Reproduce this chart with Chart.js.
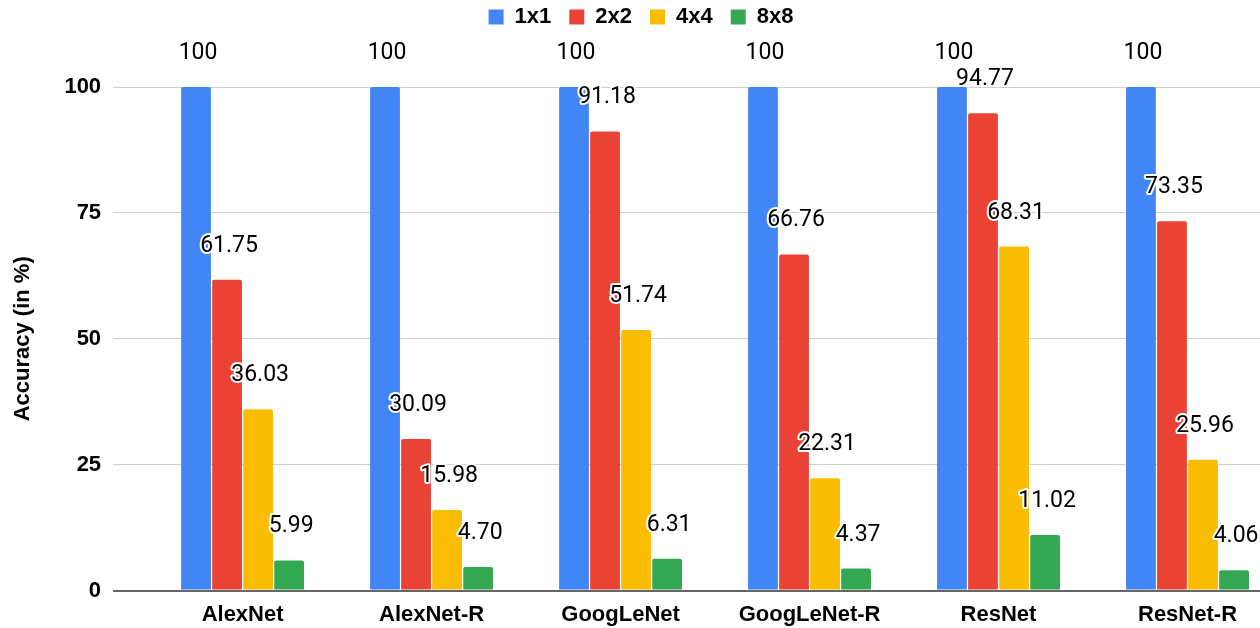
<!DOCTYPE html>
<html>
<head>
<meta charset="utf-8">
<script src="https://cdn.jsdelivr.net/npm/chart.js@4"></script>
<style>
  html, body { margin: 0; padding: 0; background: #fff; overflow: hidden; }
  #wrap { position: relative; width: 1282px; height: 628px; }
</style>
</head>
<body>
<div id="wrap"><canvas id="chart"></canvas></div>
<script>
// Network variants on the x axis
const categories = ['AlexNet', 'AlexNet-R', 'GoogLeNet', 'GoogLeNet-R', 'ResNet', 'ResNet-R'];

// Accuracy (in %) per block size
const acc1x1 = [100, 100, 100, 100, 100, 100];
const acc2x2 = [61.75, 30.09, 91.18, 66.76, 94.77, 73.35];
const acc4x4 = [36.03, 15.98, 51.74, 22.31, 68.31, 25.96];
const acc8x8 = [5.99, 4.70, 6.31, 4.37, 11.02, 4.06];

const seriesNames = ['1x1', '2x2', '4x4', '8x8'];
const yTicks = [0, 25, 50, 75, 100];

const colors = ['#4285F4', '#EA4335', '#FBBC04', '#34A853'];
const seriesData = [acc1x1, acc2x2, acc4x4, acc8x8];

const AXIS_FONT = { family: '"Liberation Sans", Arial, sans-serif', size: 22, weight: 'bold' };

function fmt(v) {
  return Number.isInteger(v) ? String(v) : v.toFixed(2);
}

// Value labels above each bar, white halo behind black text
const valueLabels = {
  id: 'valueLabels',
  afterDatasetsDraw(chart) {
    const ctx = chart.ctx;
    ctx.save();
    ctx.font = '23px Roboto, "Liberation Sans", sans-serif';
    ctx.textAlign = 'center';
    ctx.textBaseline = 'alphabetic';
    ctx.lineJoin = 'round';
    chart.data.datasets.forEach((ds, di) => {
      const meta = chart.getDatasetMeta(di);
      meta.data.forEach((bar, i) => {
        const txt = fmt(ds.data[i]);
        const x = bar.x + 2;
        const y = bar.y - 28;
        ctx.strokeStyle = '#ffffff';
        ctx.lineWidth = 4;
        ctx.strokeText(txt, x, y);
        ctx.fillStyle = '#000000';
        ctx.fillText(txt, x, y);
      });
    });
    ctx.restore();
  }
};

// Extra space between the legend row and the plot
const legendGap = {
  id: 'legendGap',
  beforeLayout(chart) {
    const lg = chart.legend;
    if (lg && !lg._gapPatched) {
      const orig = lg.fit;
      lg.fit = function () {
        orig.call(this);
        this.height += 49;
      };
      lg._gapPatched = true;
    }
  }
};

new Chart(document.getElementById('chart'), {
  type: 'bar',
  data: {
    labels: categories,
    datasets: seriesNames.map((name, k) => ({
      label: name,
      data: seriesData[k],
      backgroundColor: colors[k],
      borderWidth: 0,
      borderRadius: { topLeft: 2, topRight: 2, bottomLeft: 0, bottomRight: 0 },
      borderSkipped: 'bottom',
      categoryPercentage: 0.657,
      barPercentage: 0.96
    }))
  },
  options: {
    responsive: true,
    maintainAspectRatio: false,
    animation: false,
    layout: { padding: { top: -12, right: 0, bottom: -11, left: 0 } },
    plugins: {
      legend: {
        position: 'top',
        align: 'center',
        labels: {
          boxWidth: 15,
          boxHeight: 15,
          padding: 18,
          color: '#222',
          font: AXIS_FONT,
          generateLabels(chart) {
            return chart.data.datasets.map((ds, i) => ({
              text: ds.label,
              fillStyle: ds.backgroundColor,
              strokeStyle: ds.backgroundColor,
              lineWidth: 0,
              datasetIndex: i,
              hidden: false
            }));
          }
        }
      },
      tooltip: { enabled: false }
    },
    scales: {
      x: {
        offset: true,
        grid: { display: false, drawTicks: false },
        border: { display: false },
        ticks: { color: '#000', font: AXIS_FONT, padding: 11, maxRotation: 0 }
      },
      y: {
        min: 0,
        max: 100,
        afterBuildTicks(scale) {
          scale.ticks = yTicks.map(v => ({ value: v }));
        },
        border: { display: false },
        grid: {
          drawTicks: true,
          tickLength: 35,
          color: ctx => (ctx.tick && ctx.tick.value === 0 ? '#666666' : '#d0d0d0'),
          tickColor: ctx => (ctx.tick && ctx.tick.value === 0 ? '#666666' : '#d0d0d0'),
          lineWidth: ctx => (ctx.tick && ctx.tick.value === 0 ? 2 : 1)
        },
        ticks: { color: '#000', font: AXIS_FONT, padding: 12 },
        title: {
          display: true,
          text: 'Accuracy (in %)',
          color: '#000',
          font: AXIS_FONT,
          padding: { top: 10, bottom: 16 }
        }
      }
    }
  },
  plugins: [valueLabels, legendGap]
});
</script>
</body>
</html>
